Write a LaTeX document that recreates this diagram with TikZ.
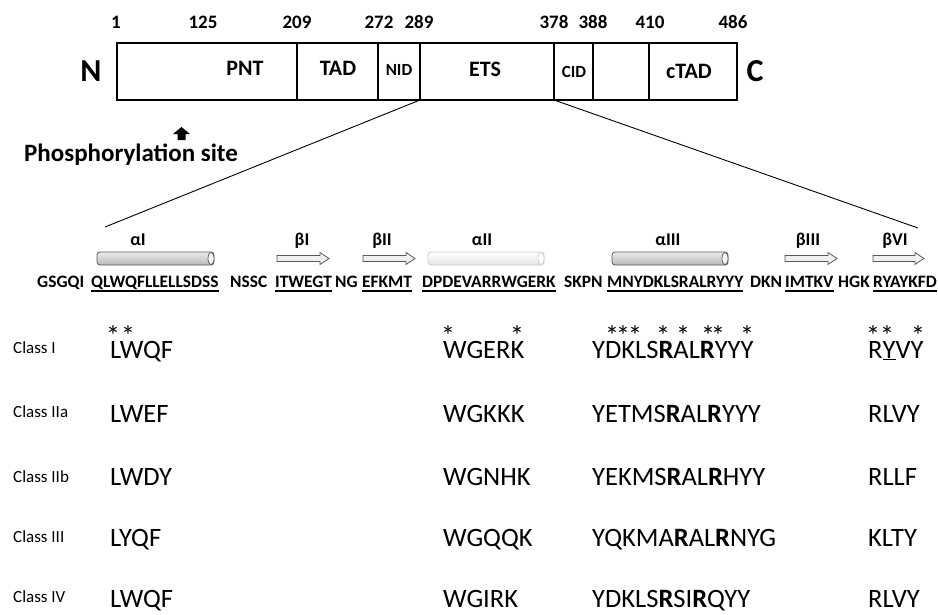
\documentclass[tikz,border=0pt]{standalone}
\usepackage{fontspec}
\setmainfont{Carlito}
\usetikzlibrary{calc}
\begin{document}
\begin{tikzpicture}[x=1pt,y=-1pt,
  num/.style={font=\bfseries\fontsize{19}{21}\selectfont, inner sep=0},
  dom/.style={font=\bfseries\fontsize{22}{24}\selectfont, inner sep=0},
  smalldom/.style={font=\bfseries\fontsize{17}{19}\selectfont, inner sep=0},
  term/.style={font=\bfseries\fontsize{32}{36}\selectfont, inner sep=0},
  sslab/.style={font=\bfseries\fontsize{18}{20}\selectfont, anchor=base, inner sep=0},
  seg/.style={font=\bfseries\fontsize{17.4}{20}\selectfont, anchor=base west, inner sep=0},
  cls/.style={font=\fontsize{17}{20}\selectfont, anchor=base west, inner sep=0},
  big/.style={font=\fontsize{26.5}{30}\selectfont, anchor=base west, inner sep=0},
  star/.style={font=\fontsize{28}{30}\selectfont, anchor=north, inner sep=0},
  divider/.style={line width=1.5pt},
  ul/.style={line width=1.1pt},
  helix/.style={draw=gray!70!black, line width=0.8pt, rounded corners=3pt, top color=gray!15, bottom color=gray!55},
  lighthelix/.style={draw=gray!40, line width=0.8pt, rounded corners=3pt, top color=white, bottom color=gray!20},
  strand/.style={draw=gray!70!black, line width=0.8pt, fill=gray!12}
]
\useasboundingbox (0,0) rectangle (938,614);

% ---- domain map ----
\node[draw, line width=2.2pt, minimum width=620pt, minimum height=57pt, inner sep=0] (box) at (427,71.5) {};
\foreach \xx in {297,378,420,554,593,649}
  \draw[divider] (\xx,43) -- (\xx,100);

\node[num] (n1) at (116,22) {1};
\node[num] (n125) at (203,22) {125};
\node[num] (n209) at (297,22) {209};
\node[num] (n272) at (379,22) {272};
\node[num] (n289) at (419,22) {289};
\node[num] (n378) at (554,22) {378};
\node[num] (n388) at (593,22) {388};
\node[num] (n410) at (650,22) {410};
\node[num] (n486) at (733,22) {486};

\node[dom] (pnt) at (245,68) {PNT};
\node[dom] (tad) at (338,68) {TAD};
\node[smalldom] (nid) at (399,70) {NID};
\node[dom] (ets) at (485,69) {ETS};
\node[smalldom] (cid) at (574,72) {CID};
\node[dom] (ctad) at (689,71) {cTAD};
\node[term] (nterm) at (91,71) {N};
\node[term] (cterm) at (755,71) {C};

% phosphorylation site
\fill (181.5,127) -- (190,134) -- (185.5,134) -- (185.5,140) -- (177.5,140) -- (177.5,134) -- (173,134) -- cycle;
\node[font=\bfseries\fontsize{25}{28}\selectfont, inner sep=0] (phos) at (131,155) {Phosphorylation site};

% zoom lines
\coordinate (etsL) at (420,100);
\coordinate (etsR) at (554,100);
\coordinate (seqL) at (105,227);
\coordinate (seqR) at (918,228);
\draw[line width=0.9pt] (etsL) -- (seqL);
\draw[line width=0.9pt] (etsR) -- (seqR);

% ---- secondary structure ----
\node[sslab] (a1) at (138,245) {αI};
\node[sslab] (b1) at (302,245) {βI};
\node[sslab] (b2) at (382,245) {βII};
\node[sslab] (a2) at (482,245) {αII};
\node[sslab] (a3) at (668,245) {αIII};
\node[sslab] (b3) at (808,245) {βIII};
\node[sslab] (b6) at (895,245) {βVI};

% helices
\path[helix] (97,252) rectangle (214,265);
\draw[draw=gray!70!black, fill=gray!8, line width=0.7pt] (211,258.5) ellipse (3pt and 6.2pt);
\path[lighthelix] (428,252) rectangle (544,265);
\draw[draw=gray!40, fill=white, line width=0.7pt] (541,258.5) ellipse (3pt and 6.2pt);
\path[helix] (612,252) rectangle (728,265);
\draw[draw=gray!70!black, fill=gray!8, line width=0.7pt] (725,258.5) ellipse (3pt and 6.2pt);

% strands
\foreach \xa/\xb in {277/329, 363/415, 785/837, 873/924}{
  \path[strand] (\xa,255.5) -- ({\xb-9},255.5) -- ({\xb-9},252.5) -- (\xb,258.5)
     -- ({\xb-9},264.5) -- ({\xb-9},261.5) -- (\xa,261.5) -- cycle;
}

% ---- sequence ----
\node[seg] (s1) at (37,287) {GSGQI};
\node[seg] (s2) at (91,287) {QLWQFLLELLSDSS};
\node[seg] (s3) at (230,287) {NSSC};
\node[seg] (s4) at (275,287) {ITWEGT~};
\node[seg] (s5) at (335,287) {NG};
\node[seg] (s6) at (362,287) {EFKMT~};
\node[seg] (s7) at (422,287) {DPDEVARRWGERK~};
\node[seg] (s8) at (564,287) {SKPN};
\node[seg] (s9) at (607,287) {MNYDKLSRALRYYY~};
\node[seg] (s10) at (750,287) {DKN};
\node[seg] (s11) at (785,287) {IMTKV~};
\node[seg] (s12) at (838,287) {HGK};
\node[seg] (s13) at (873,287) {RYAYKFD};
\foreach \s in {s2,s4,s6,s7,s9,s11,s13}
  \draw[ul] ([yshift=-4pt]\s.base west) -- ([yshift=-4pt]\s.base east);

% ---- classes ----
\node[cls] (c1) at (13,353) {Class I};
\node[cls] (c2) at (13,417) {Class IIa};
\node[cls] (c3) at (13,482) {Class IIb};
\node[cls] (c4) at (13,542) {Class III};
\node[cls] (c5) at (13,602) {Class IV};

\node[big] (r1a) at (110,358) {LWQF};
\node[big] (r1b) at (443,358) {WGERK};
\node[big] (r1c) at (592,358) {YDKLS\textbf{R}AL\textbf{R}YYY};
\node[big] (r1d) at (868,358) {R\underline{Y}VY};

\node[big] (r2a) at (110,422) {LWEF};
\node[big] (r2b) at (443,422) {WGKKK};
\node[big] (r2c) at (592,422) {YETMS\textbf{R}AL\textbf{R}YYY};
\node[big] (r2d) at (868,422) {RLVY};

\node[big] (r3a) at (110,485) {LWDY};
\node[big] (r3b) at (443,485) {WGNHK};
\node[big] (r3c) at (592,485) {YEKMS\textbf{R}AL\textbf{R}HYY};
\node[big] (r3d) at (868,485) {RLLF};

\node[big] (r4a) at (110,546) {LYQF};
\node[big] (r4b) at (443,546) {WGQQK};
\node[big] (r4c) at (592,546) {YQKMA\textbf{R}AL\textbf{R}NYG};
\node[big] (r4d) at (868,546) {KLTY};

\node[big] (r5a) at (110,607) {LWQF};
\node[big] (r5b) at (443,607) {WGIRK};
\node[big] (r5c) at (592,607) {YDKLS\textbf{R}SI\textbf{R}QYY};
\node[big] (r5d) at (868,607) {RLVY};

% asterisks
\foreach \xx [count=\i] in {113,128,448,517,612,623,635,663,683,708,718,747,873,887,918}
  \node[star] (st\i) at (\xx,325) {*};

\end{tikzpicture}
\end{document}
